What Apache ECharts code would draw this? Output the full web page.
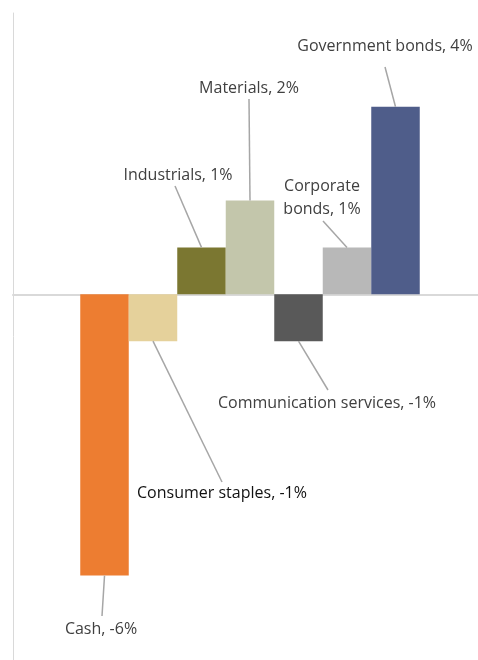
<!DOCTYPE html>
<html><head><meta charset="utf-8">
<script src="https://cdn.jsdelivr.net/npm/echarts@6/dist/echarts.min.js"></script>
<style>html,body{margin:0;padding:0;background:#fff}#c{width:478px;height:660px}</style>
</head><body><div id="c"></div>
<script>
const categories = ['Allocation'];
const seriesNames = ['Cash','Consumer staples','Industrials','Materials','Communication services','Corporate bonds','Government bonds'];
const seriesValues = [-6, -1, 1, 2, -1, 1, 4];
const seriesColors = ['#ED7D31','#E5D19B','#7B7731','#C3C6AB','#595959','#B8B8B8','#4F5D8A'];
// label centre positions and leader-line label ends (style only)
const labelPos = [[101,629],[222,493],[178,175],[249,88],[327,403],[322,198],[385,46]];
const lineEnd  = [[102,616],[222,482],[175,186],[249,99],[328,390],[323,221],[385,67]];
const labelColors = ['#404040','#111111','#404040','#404040','#404040','#404040','#404040'];

const chart = echarts.init(document.getElementById('c'), null, {renderer:'canvas'});
const series = seriesNames.map((n,i)=>({
  name: n, type:'bar', barWidth: 48.5, barGap:'0%',
  data:[seriesValues[i]],
  itemStyle:{color:seriesColors[i]},
  label:{show:true, position:'top', color:labelColors[i], fontFamily:'Open Sans', fontSize:16, lineHeight:23,
    formatter: p => (n==='Corporate bonds' ? 'Corporate\nbonds' : n) + ', ' + p.value + '%'},
  labelLayout: ()=>({x:labelPos[i][0], y:labelPos[i][1], align:'center', verticalAlign:'middle'}),
  markLine:{
    silent:true, symbol:['none','none'], animation:false,
    label:{show:false},
    lineStyle:{color:'#A6A6A6', width:1.5, type:'solid'},
    emphasis:{disabled:true},
    data:[[{coord:[categories[0], seriesValues[i]]},{x:lineEnd[i][0], y:lineEnd[i][1]}]]
  },
  emphasis:{disabled:true}
}));
chart.setOption({
  animation:false,
  grid:{left:13, right:-9, top:13, bottom:0, outerBoundsMode:'none', containLabel:false},
  xAxis:{type:'category', data:categories, axisLabel:{show:false}, axisTick:{show:false},
    axisLine:{show:true, onZero:true, lineStyle:{color:'#D9D9D9', width:2}}},
  yAxis:{type:'value', min:-7.8, max:6, axisLabel:{show:false}, splitLine:{show:false},
    axisTick:{show:false}, axisLine:{show:true, lineStyle:{color:'#D9D9D9', width:1}}},
  series
});
</script></body></html>
